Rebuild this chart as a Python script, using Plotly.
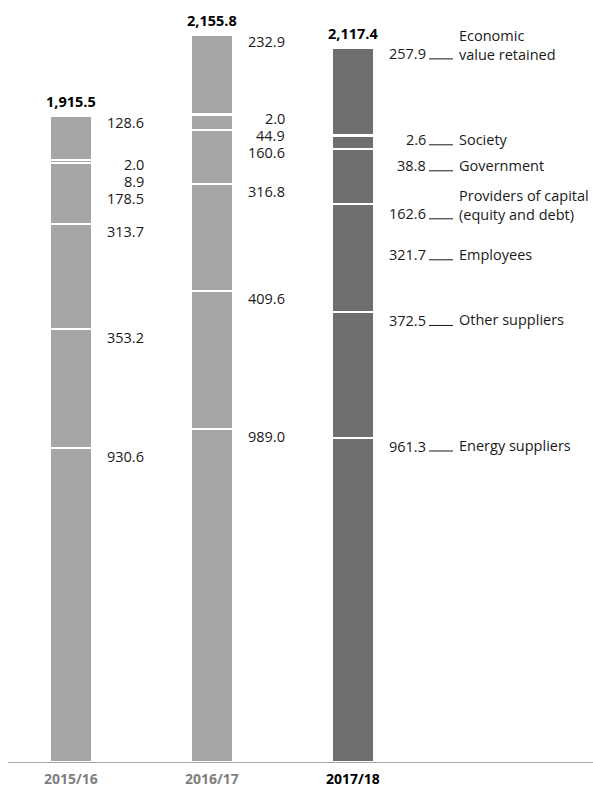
import plotly.graph_objects as go

# Economic value distributed and retained, by year (stack order bottom -> top)
years = ["2015/16", "2016/17", "2017/18"]
categories = [
    "Energy suppliers",
    "Other suppliers",
    "Employees",
    "Providers of capital<br>(equity and debt)",
    "Government",
    "Society",
    "Economic<br>value retained",
]
values_2015 = [930.6, 353.2, 313.7, 178.5, 8.9, 2.0, 128.6]
values_2016 = [989.0, 409.6, 316.8, 160.6, 44.9, 2.0, 232.9]
values_2017 = [961.3, 372.5, 321.7, 162.6, 38.8, 2.6, 257.9]
totals = [1915.5, 2155.8, 2117.4]

series = [values_2015, values_2016, values_2017]

# ---- layout constants ----
W, H = 593, 787
M_L, M_R, M_T, M_B = 8, 0, 0, 25
plot_h = H - M_T - M_B
plot_w = W - M_L - M_R
Y_MAX = 2261.0
px_per_unit = plot_h / Y_MAX
X_MIN, X_MAX = -0.447, 3.702
px_per_x = plot_w / (X_MAX - X_MIN)
bar_w_px = 42
bar_width = bar_w_px / px_per_x

light = "#a6a6a6"
dark = "#6e6e6d"
bar_colors = [light, light, dark]
year_colors = ["#7f7f7f", "#7f7f7f", "#000000"]
FONT = "Open Sans, Noto Sans, sans-serif"
FS = 14.5
TXT = "#1a1a1a"

# extra vertical room (px) kept above a value label in the last column,
# where each label carries a category name
gap_last = [17, 17, 41, 48, 26, 17, 0]

fig = go.Figure()
for ci, cat in enumerate(categories):
    fig.add_trace(go.Bar(
        x=[0, 1, 2],
        y=[s[ci] for s in series],
        width=bar_width,
        marker=dict(color=bar_colors, line=dict(color="white", width=2)),
        name=cat.replace("<br>", " "),
        hoverinfo="skip",
        showlegend=False,
    ))

annotations = []
shapes = []


def px_to_val(px_from_top):
    return Y_MAX - px_from_top / px_per_unit


for yi, vals in enumerate(series):
    # cumulative tops of each segment
    tops = []
    acc = 0.0
    for v in vals:
        acc += v
        tops.append(acc)
    prev = None
    for ci in reversed(range(len(vals))):
        top_px = (Y_MAX - tops[ci]) * px_per_unit
        if ci == len(vals) - 1:
            off = 6 if yi < 2 else 5
        elif vals[ci] < 50:
            off = 4
        else:
            off = 7.5
        want = top_px + off
        gap = 17 if yi < 2 else gap_last[ci]
        pos = want if prev is None else max(want, prev + gap)
        prev = pos
        yv = px_to_val(pos)
        annotations.append(dict(
            x=yi, y=yv, xref="x", yref="y",
            text=f"{vals[ci]:.1f}", showarrow=False,
            xanchor="right", yanchor="middle",
            xshift=bar_w_px / 2 + 52.5,
            height=16, borderpad=0,
            font=dict(family=FONT, size=FS, color=TXT),
        ))
        if yi == 2:
            # leader line and category name
            shapes.append(dict(
                type="line", xref="x", yref="y",
                xsizemode="pixel", xanchor=yi, x0=76, x1=100,
                ysizemode="pixel", yanchor=yv, y0=-5.5, y1=-5.5,
                line=dict(color=TXT, width=1),
            ))
            n_lines = categories[ci].count("<br>") + 1
            annotations.append(dict(
                x=yi, y=yv, xref="x", yref="y",
                text=categories[ci], showarrow=False, align="left",
                xanchor="left", yanchor="middle",
                xshift=104,
                yshift=(n_lines - 1) * 17 / 2,
                font=dict(family=FONT, size=FS, color=TXT),
            ))

# totals above the bars
for yi, t in enumerate(totals):
    annotations.append(dict(
        x=yi, y=t, xref="x", yref="y",
        text=f"<b>{t:,.1f}</b>", showarrow=False,
        xanchor="center", yanchor="middle", yshift=15,
        font=dict(family=FONT, size=FS, color="#000000"),
    ))

# year labels under the baseline
for yi, yr in enumerate(years):
    annotations.append(dict(
        x=yi, y=0, xref="x", yref="paper",
        text=f"<b>{yr}</b>", showarrow=False,
        xanchor="center", yanchor="middle", yshift=-16,
        height=15, borderpad=0,
        font=dict(family=FONT, size=14, color=year_colors[yi]),
    ))

fig.update_layout(
    width=W, height=H,
    margin=dict(l=M_L, r=M_R, t=M_T, b=M_B, pad=0),
    barmode="stack",
    bargap=0,
    plot_bgcolor="white",
    paper_bgcolor="white",
    annotations=annotations,
    shapes=shapes,
    xaxis=dict(
        range=[X_MIN, X_MAX], showgrid=False, zeroline=False,
        showticklabels=False, ticks="",
        showline=True, linecolor="#a6a6a6", linewidth=1,
        layer="below traces", fixedrange=True,
    ),
    yaxis=dict(
        range=[0, Y_MAX], showgrid=False, zeroline=False,
        showticklabels=False, ticks="", showline=False, fixedrange=True,
    ),
)

fig.write_html("out.html", config={"displayModeBar": False})
